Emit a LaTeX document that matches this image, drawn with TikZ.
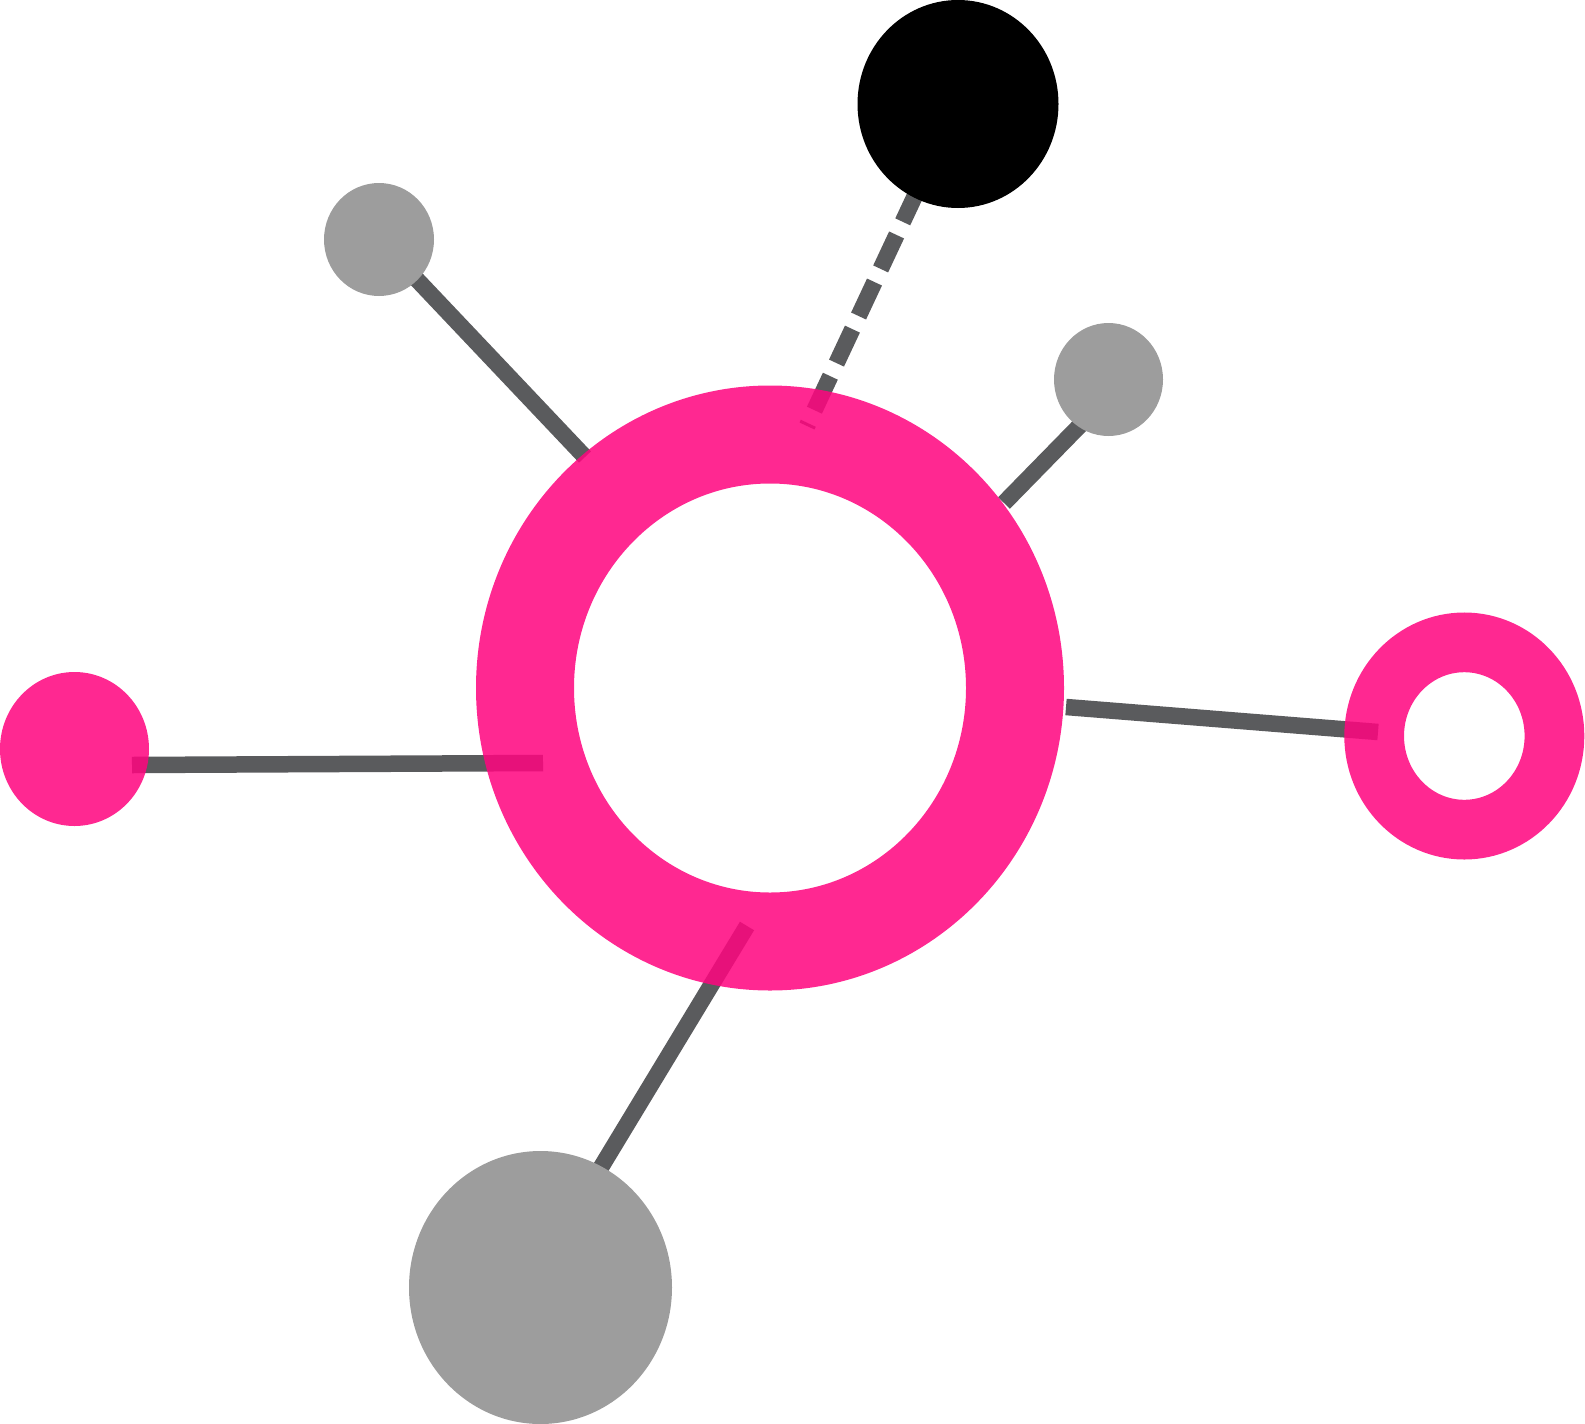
\documentclass[tikz,border=0pt]{standalone}
\usetikzlibrary{shapes.geometric}
\pgfdeclarelayer{bg}
\pgfsetlayers{bg,main}
\definecolor{hotpink}{RGB}{255,5,127}
\definecolor{linegray}{RGB}{90,91,93}
\definecolor{dotgray}{RGB}{157,157,157}
\begin{document}
\begin{tikzpicture}[x=1pt,y=-1pt,
  blob/.style={ellipse, inner sep=0pt, outer sep=0pt},
  ring/.style={blob, draw=hotpink, draw opacity=0.86},
  link/.style={draw=linegray, line width=16.5pt, line cap=butt}]
\useasboundingbox (0,0) rectangle (1585,1424);
% nodes
\node[ring, line width=98pt, minimum width=490pt, minimum height=507pt] (hub) at (770,688) {};
\node[ring, line width=59.7pt, minimum width=180.3pt, minimum height=187.3pt] (ringR) at (1464.3,736) {};
\node[blob, fill=hotpink, fill opacity=0.86, minimum width=149pt, minimum height=154pt] (pinkL) at (74.5,749) {};
\node[blob, fill=black, minimum width=201pt, minimum height=208pt] (topB) at (958,104) {};
\node[blob, fill=dotgray, minimum width=110pt, minimum height=113pt] (grayTL) at (379,239.5) {};
\node[blob, fill=dotgray, minimum width=109pt, minimum height=113pt] (grayR) at (1108.5,379.5) {};
\node[blob, fill=dotgray, minimum width=263pt, minimum height=273pt] (grayB) at (540.5,1287.5) {};
% connector ends
\coordinate (hubTL) at (585,457);
\coordinate (hubTop) at (807,426);
\coordinate (hubNE) at (1004,503);
\coordinate (grayRin) at (1095,410);
\coordinate (hubE) at (1066,707);
\coordinate (ringRin) at (1378,732);
\coordinate (pinkLin) at (132,765);
\coordinate (hubW) at (543,763);
\coordinate (hubS) at (747,926);
\coordinate (grayBin) at (560,1235);
\begin{pgfonlayer}{bg}
\draw[link] (grayTL.center) -- (hubTL);
\draw[link, dash pattern=on 37.5pt off 14.5pt, dash phase=34.5pt] (hubTop) -- (topB.center);
\draw[link] (hubNE) -- (grayRin);
\draw[link] (hubE) -- (ringRin);
\draw[link] (pinkLin) -- (hubW);
\draw[link] (hubS) -- (grayBin);
\end{pgfonlayer}
\end{tikzpicture}
\end{document}
